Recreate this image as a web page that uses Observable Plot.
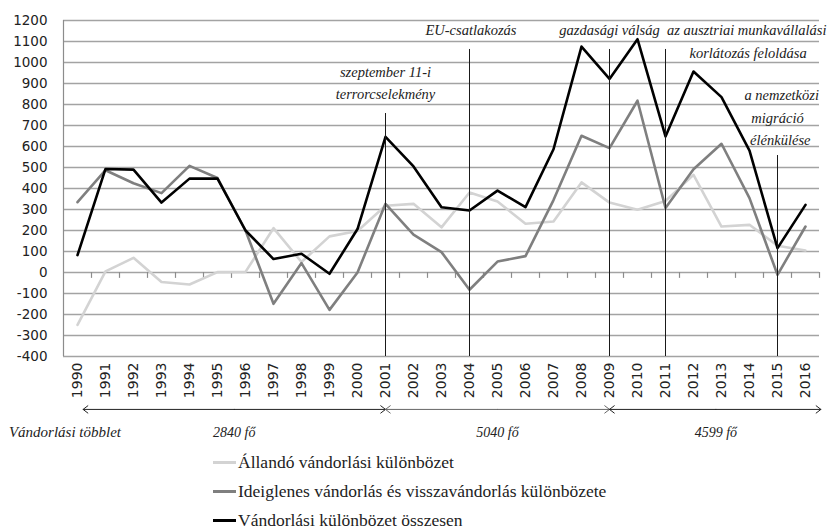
<!DOCTYPE html>
<html><head><meta charset="utf-8">
<script src="https://cdn.jsdelivr.net/npm/d3@7"></script>
<script src="https://cdn.jsdelivr.net/npm/@observablehq/plot@0.6"></script>
<style>
body{margin:0;background:#fff;}
#legend{margin-left:213px;padding-top:3px;font-family:"Liberation Serif",serif;font-size:17.5px;color:#222;}
.row{display:flex;align-items:center;height:29px;}
.sw{width:23px;height:2.5px;margin-right:2px;}
</style></head><body>
<div id="chart"></div><div id="legend"></div>
<script>
const years = [1990,1991,1992,1993,1994,1995,1996,1997,1998,1999,2000,2001,2002,2003,2004,2005,2006,2007,2008,2009,2010,2011,2012,2013,2014,2015,2016];
const permanent = [-249,5,70,-45,-57,2,3,211,50,172,198,318,327,215,381,338,232,243,429,333,299,341,465,219,227,127,105];
const temporary = [335,487,425,378,508,450,200,-149,45,-178,0,327,180,97,-82,52,78,345,651,592,818,307,492,613,354,-11,219];
const total = [83,493,490,333,447,447,200,64,89,-6,207,646,505,311,295,390,311,587,1076,922,1111,648,957,835,580,116,322];
const seriesNames = ["Állandó vándorlási különbözet","Ideiglenes vándorlás és visszavándorlás különbözete","Vándorlási különbözet összesen"];
const seriesColors = ["#d3d3d3","#7f7f7f","#000000"];
const yTicks = [-400,-300,-200,-100,0,100,200,300,400,500,600,700,800,900,1000,1100,1200];

const events = [
  {year:2001, top:757},
  {year:2004, top:1062},
  {year:2009, top:1062},
  {year:2011, top:1062},
  {year:2015, top:557}
];
const eventLabels = [
  {x:2001, y:952, text:"szeptember 11-i"},
  {x:2001, y:848, text:"terrorcselekmény"},
  {x:2004.05, y:1152, text:"EU-csatlakozás"},
  {x:2009, y:1152, text:"gazdasági válság"},
  {x:2013.9, y:1152, text:"az ausztriai munkavállalási"},
  {x:2013.95, y:1043, text:"korlátozás feloldása"},
  {x:2015.15, y:843, text:"a nemzetközi"},
  {x:2015.0, y:733, text:"migráció"},
  {x:2015.1, y:629, text:"élénkülése"}
];
const periods = [
  {from:1990.2, to:2001, mid:1995.6, label:"2840 fő", color:"#222"},
  {from:2001, to:2009, mid:2005, label:"5040 fő", color:"#666"},
  {from:2009, to:2016.55, mid:2012.8, label:"4599 fő", color:"#222"}
];
const surplusLabel = {x:1987.55, text:"Vándorlási többlet"};
const arrowY = -652, labelY = -762;

const seriesData = [permanent, temporary, total];
const rows = seriesData.flatMap((arr, s) => years.map((yr, i) => ({year:yr, value:arr[i], s})));
const halfTicks = years.map(y => y + 0.5);
const linkHalves = periods.flatMap(p => [
  {x1:p.mid, x2:p.from, color:p.color},
  {x1:p.mid, x2:p.to, color:p.color}
]);

const serifIt = {fontFamily:"Liberation Serif", fontStyle:"italic", fill:"#222"};

const chart = Plot.plot({
  width:828, height:445,
  marginLeft:63, marginRight:9, marginTop:20, marginBottom:89,
  x:{domain:[1989.5,2016.5]},
  y:{domain:[-400,1200]},
  style:{fontFamily:"DejaVu Sans", fontSize:"14px", color:"#222", background:"#fff", overflow:"visible"},
  marks:[
    Plot.ruleY(yTicks, {stroke:"#a3a3a3", strokeWidth:1.3}),
    Plot.ruleX([1989.5], {y1:-400, y2:1200, stroke:"#8c8c8c", strokeWidth:1.2}),
    Plot.ruleX(halfTicks, {y1:0, y2:-28, stroke:"#8c8c8c", strokeWidth:1.2}),
    Plot.axisY({ticks:yTicks, tickSize:0, tickPadding:16, tickFormat:d => String(d), label:null, fontSize:13.5}),
    Plot.axisX({ticks:years, tickSize:0, tickRotate:-90, tickPadding:6, tickFormat:d => String(d), label:null}),
    Plot.line(rows.filter(d => d.s === 0), {x:"year", y:"value", stroke:seriesColors[0], strokeWidth:2.6}),
    Plot.line(rows.filter(d => d.s === 1), {x:"year", y:"value", stroke:seriesColors[1], strokeWidth:2.6}),
    Plot.line(rows.filter(d => d.s === 2), {x:"year", y:"value", stroke:seriesColors[2], strokeWidth:2.6}),
    Plot.ruleX(events, {x:"year", y1:-400, y2:"top", stroke:"#1a1a1a", strokeWidth:1}),
    Plot.text(eventLabels, {x:"x", y:"y", text:"text", fontSize:14.5, ...serifIt}),
    Plot.arrow(linkHalves, {x1:"x1", x2:"x2", y1:arrowY, y2:arrowY, stroke:"color", strokeWidth:1, headLength:9, headAngle:75}),
    Plot.text(periods, {x:"mid", y:labelY, text:"label", fontSize:14, ...serifIt}),
    Plot.text([surplusLabel], {x:"x", y:labelY, text:"text", textAnchor:"start", fontSize:15, ...serifIt})
  ]
});
document.getElementById("chart").appendChild(chart);

const legend = document.getElementById("legend");
seriesNames.forEach((n, i) => {
  const r = document.createElement("div"); r.className = "row";
  const sw = document.createElement("div"); sw.className = "sw"; sw.style.background = seriesColors[i];
  const t = document.createElement("span"); t.textContent = n;
  r.appendChild(sw); r.appendChild(t); legend.appendChild(r);
});
</script></body></html>
